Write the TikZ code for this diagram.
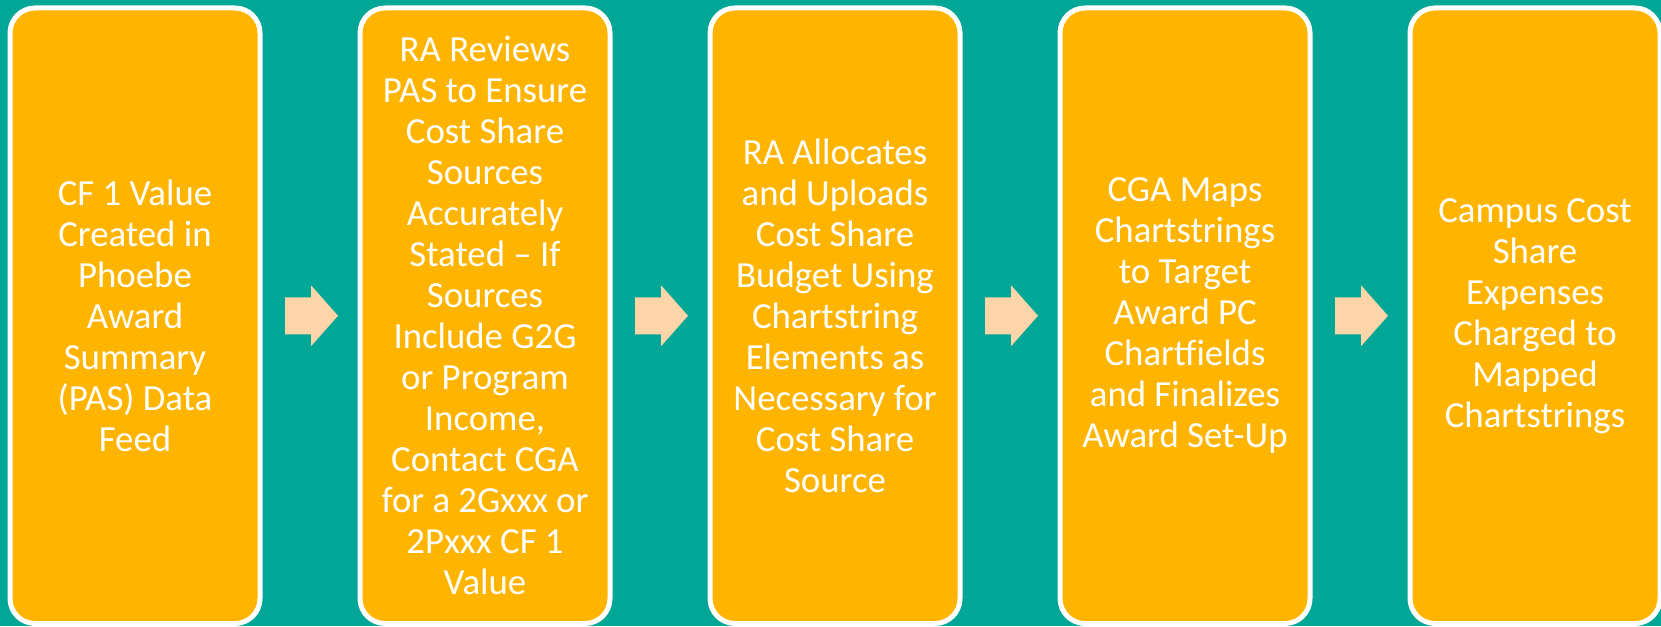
\documentclass[tikz,border=0pt]{standalone}
\usepackage{fontspec}
\setmainfont{Carlito}
\usetikzlibrary{calc}
\definecolor{bg}{HTML}{00A696}
\definecolor{boxfill}{HTML}{FFB400}
\definecolor{arrowfill}{HTML}{FDD5A9}
\begin{document}
\begin{tikzpicture}[x=1pt,y=-1pt,
  stepbox/.style={draw=white, line width=5pt, fill=boxfill, rounded corners=25pt,
    minimum width=250pt, minimum height=615.5pt, text=white, align=center,
    font=\fontsize{36.8}{41}\selectfont, inner sep=0pt},
  flowarrow/.pic={\fill[arrowfill] (-25,-18.5) -- (1,-18.5) -- (1,-30.5) -- (28,0) -- (1,30.5) -- (1,18.5) -- (-25,18.5) -- cycle;}]
\fill[bg] (0,0) rectangle (1661,626);
\useasboundingbox (0,0) rectangle (1661,626);
\node[stepbox] (b1) at (135,315.75) {CF 1 Value\\Created in\\Phoebe\\Award\\Summary\\(PAS) Data\\Feed};
\node[stepbox] (b2) at (485,315.75) {RA Reviews\\PAS to Ensure\\Cost Share\\Sources\\Accurately\\Stated – If\\Sources\\Include G2G\\or Program\\Income,\\Contact CGA\\for a 2Gxxx or\\2Pxxx CF 1\\Value};
\node[stepbox] (b3) at (835,315.75) {RA Allocates\\and Uploads\\Cost Share\\Budget Using\\Chartstring\\Elements as\\Necessary for\\Cost Share\\Source};
\node[stepbox] (b4) at (1185,315.75) {CGA Maps\\Chartstrings\\to Target\\Award PC\\Chartfields\\and Finalizes\\Award Set-Up};
\node[stepbox] (b5) at (1535,315.75) {Campus Cost\\Share\\Expenses\\Charged to\\Mapped\\Chartstrings};
\pic at ($(b1.east)!0.5!(b2.west)$) {flowarrow};
\pic at ($(b2.east)!0.5!(b3.west)$) {flowarrow};
\pic at ($(b3.east)!0.5!(b4.west)$) {flowarrow};
\pic at ($(b4.east)!0.5!(b5.west)$) {flowarrow};
\end{tikzpicture}
\end{document}
